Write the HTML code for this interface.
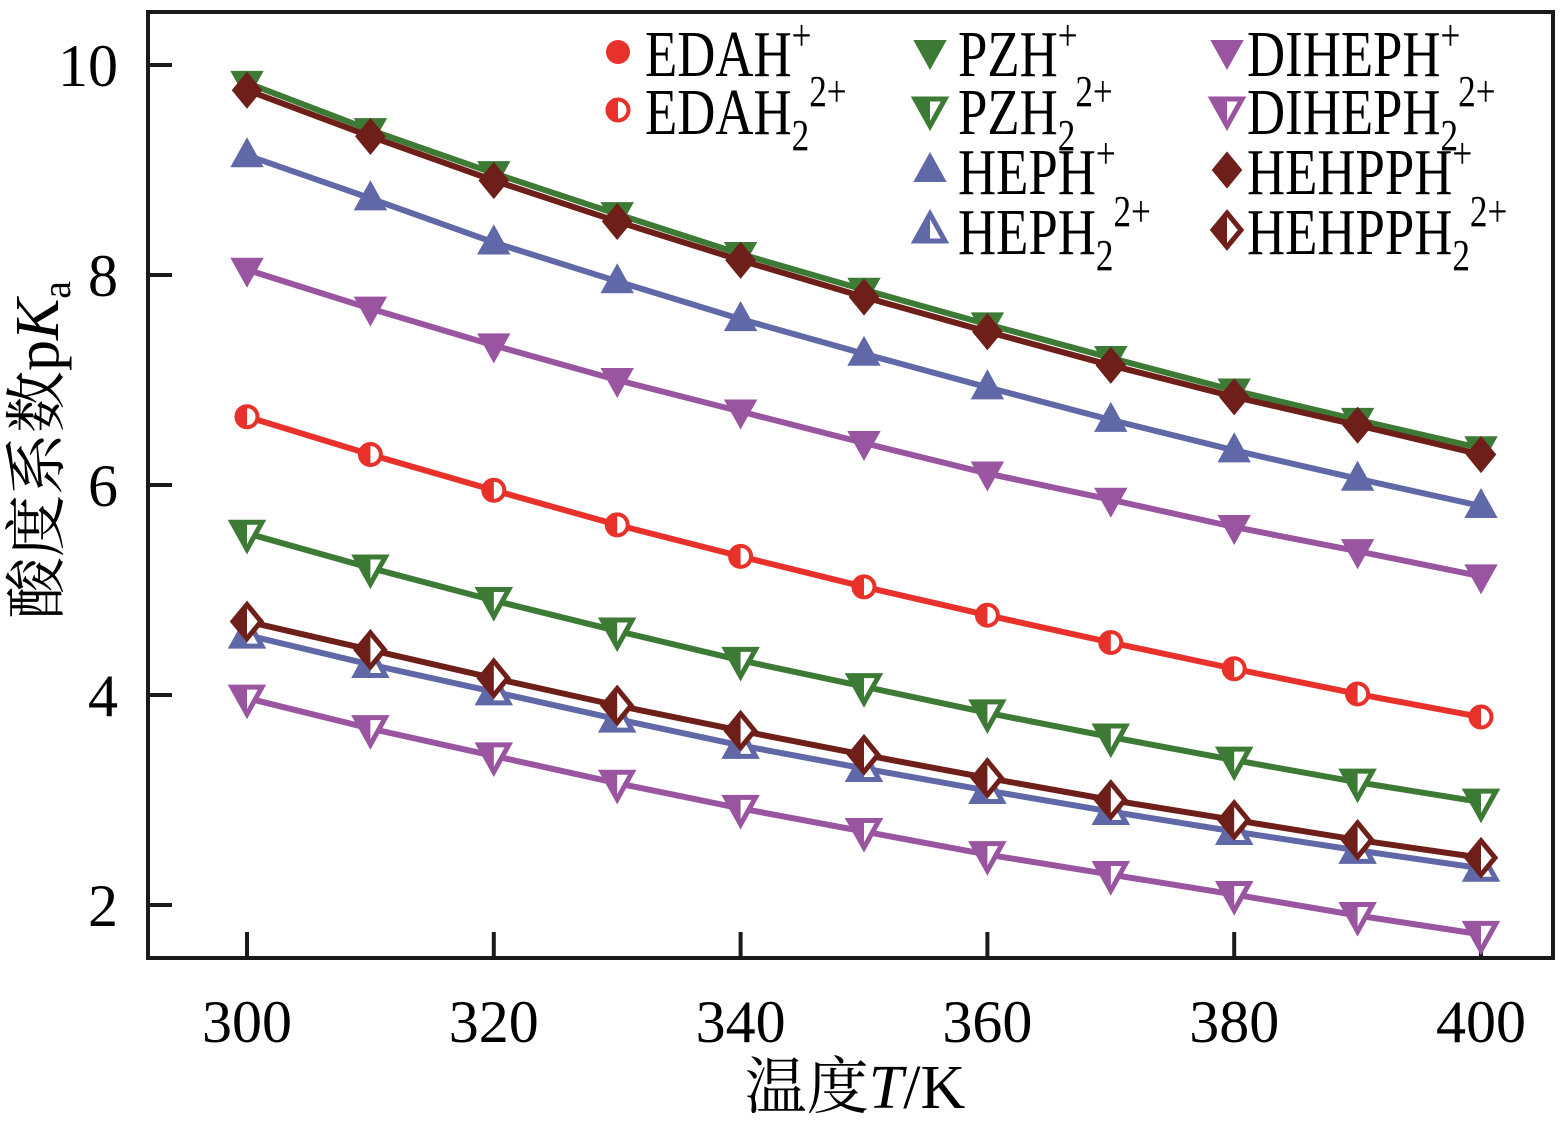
<!DOCTYPE html>
<html><head><meta charset="utf-8"><style>
body{margin:0;background:#fff}
svg{display:block;font-family:"Liberation Serif","Noto Serif CJK SC",serif}
</style></head><body>
<svg id="c" width="1568" height="1124" viewBox="0 0 1568 1124">
<rect x="148" y="12" width="1405" height="946" fill="none" stroke="#1a1a1a" stroke-width="4"/>
<g id="axes"></g>
<g id="series"></g>
<g id="legend"></g>
<text x="58" y="450" font-size="62" text-anchor="middle" transform="rotate(-90 58 450)">酸度系数p<tspan font-style="italic">K</tspan><tspan font-size="40" dy="12">a</tspan></text>
<text x="855" y="1108" font-size="62" text-anchor="middle">温度<tspan font-style="italic">T</tspan>/K</text>
</svg>
<script>
const temps=[300,310,320,330,340,350,360,370,380,390,400];
const xTicks=[300,320,340,360,380,400];
const yTicks=[2,4,6,8,10];
const edah1=[6.65,6.29,5.95,5.62,5.32,5.03,4.76,4.50,4.25,4.01,3.79];
const pzh1=[9.83,9.38,8.97,8.58,8.20,7.86,7.53,7.21,6.90,6.62,6.35];
const hehpph1=[9.76,9.32,8.90,8.51,8.14,7.79,7.46,7.14,6.84,6.57,6.29];
const heph1=[9.14,8.73,8.31,7.94,7.58,7.25,6.93,6.62,6.33,6.06,5.80];
const diheph1=[8.05,7.68,7.33,7.00,6.70,6.40,6.11,5.86,5.60,5.37,5.13];
const pzh2=[5.54,5.21,4.90,4.61,4.33,4.08,3.83,3.60,3.38,3.17,2.98];
const hehpph2=[4.70,4.43,4.16,3.90,3.66,3.43,3.21,3.00,2.81,2.62,2.45];
const heph2=[4.57,4.29,4.03,3.77,3.52,3.30,3.09,2.89,2.70,2.52,2.35];
const diheph2=[3.97,3.68,3.42,3.16,2.92,2.70,2.48,2.29,2.10,1.90,1.72];
const X=t=>247+(t-300)*12.34;
const Y=v=>905-(v-2)*105;
const NS='http://www.w3.org/2000/svg';
function mk(tag,attrs,parent){const e=document.createElementNS(NS,tag);for(const k in attrs)e.setAttribute(k,attrs[k]);parent.appendChild(e);return e;}
const axes=document.getElementById('axes');
xTicks.forEach(t=>{
 const l=mk('line',{x1:X(t),x2:X(t),y1:958,y2:932,stroke:'#1a1a1a','stroke-width':4},axes);
 
 
 const tx=mk('text',{x:X(t),y:1042,'font-size':60,'text-anchor':'middle'},axes);tx.textContent=t;
 
 
});
yTicks.forEach(v=>{
 const l=mk('line',{x1:148,x2:172,y1:Y(v),y2:Y(v),stroke:'#1a1a1a','stroke-width':4},axes);
 
 
 const tx=mk('text',{x:118,y:Y(v)+21,'font-size':60,'text-anchor':'end'},axes);tx.textContent=v;
 
 
});
function marker(g,shape,fill,color,x,y){
 let pts;
 if(shape==='circle'){
  if(fill==='full'){mk('circle',{cx:x,cy:y,r:12,fill:color},g);}
  else{mk('circle',{cx:x,cy:y,r:10.5,fill:'#fff',stroke:color,'stroke-width':4},g);
   mk('path',{d:`M${x},${y-10.5}A10.5,10.5 0 0 0 ${x},${y+10.5}Z`,fill:color},g);}
  return;
 }
 if(shape==='down')pts=[[x-15,y-11],[x+15,y-11],[x,y+16]];
 if(shape==='up')pts=[[x-15,y+11],[x+15,y+11],[x,y-16]];
 if(shape==='diamond')pts=[[x,y-17],[x+14,y],[x,y+17],[x-14,y]];
 const ps=pts.map(p=>p.join(',')).join(' ');
 if(fill==='full'){mk('polygon',{points:ps,fill:color,stroke:color,'stroke-width':2},g);}
 else{
  mk('polygon',{points:ps,fill:'#fff',stroke:color,'stroke-width':5,'stroke-linejoin':'miter'},g);
  let half;
  if(shape==='diamond')half=`${x},${y-17} ${x},${y+17} ${x-14},${y}`;
  if(shape==='down')half=`${x-15},${y-11} ${x},${y-11} ${x},${y+16}`;
  if(shape==='up')half=`${x-15},${y+11} ${x},${y+11} ${x},${y-16}`;
  mk('polygon',{points:half,fill:color},g);
 }
}
const series=[
 {n:'diheph2',d:diheph2,c:'#9a55a0',s:'down',f:'half'},
 {n:'heph2',d:heph2,c:'#6068a8',s:'up',f:'half'},
 {n:'hehpph2',d:hehpph2,c:'#6e1f1a',s:'diamond',f:'half'},
 {n:'pzh2',d:pzh2,c:'#3c7a35',s:'down',f:'half'},
 {n:'edah2',d:edah1,c:'#e8312a',s:'circle',f:'half'},
 {n:'diheph1',d:diheph1,c:'#9a55a0',s:'down',f:'full'},
 {n:'heph1',d:heph1,c:'#6068a8',s:'up',f:'full'},
 {n:'pzh1',d:pzh1,c:'#3c7a35',s:'down',f:'full'},
 {n:'hehpph1',d:hehpph1,c:'#6e1f1a',s:'diamond',f:'full'}
];
const sg=document.getElementById('series');
series.forEach(s=>{
 const g=mk('g',{},sg);
 
 
 const p=mk('polyline',{points:s.d.map((v,i)=>X(temps[i])+','+Y(v)).join(' '),fill:'none',stroke:s.c,'stroke-width':6},g);
 
 
 s.d.forEach((v,i)=>marker(g,s.s,s.f,s.c,X(temps[i]),Y(v)));
});
const lg=document.getElementById('legend');
const leg=[
 {mx:618,tx:645,y:52,s:'circle',f:'full',c:'#e8312a',b:'EDAH',sub:'',sup:'+'},
 {mx:618,tx:645,y:110,s:'circle',f:'half',c:'#e8312a',b:'EDAH',sub:'2',sup:'2+'},
 {mx:930,tx:958,y:52,s:'down',f:'full',c:'#3c7a35',b:'PZH',sub:'',sup:'+'},
 {mx:930,tx:958,y:110,s:'down',f:'half',c:'#3c7a35',b:'PZH',sub:'2',sup:'2+'},
 {mx:930,tx:958,y:170,s:'up',f:'full',c:'#6068a8',b:'HEPH',sub:'',sup:'+'},
 {mx:930,tx:958,y:230,s:'up',f:'half',c:'#6068a8',b:'HEPH',sub:'2',sup:'2+'},
 {mx:1227,tx:1247,y:52,s:'down',f:'full',c:'#9a55a0',b:'DIHEPH',sub:'',sup:'+'},
 {mx:1227,tx:1247,y:110,s:'down',f:'half',c:'#9a55a0',b:'DIHEPH',sub:'2',sup:'2+'},
 {mx:1227,tx:1247,y:170,s:'diamond',f:'full',c:'#6e1f1a',b:'HEHPPH',sub:'',sup:'+'},
 {mx:1227,tx:1247,y:230,s:'diamond',f:'half',c:'#6e1f1a',b:'HEHPPH',sub:'2',sup:'2+'}
];
leg.forEach(e=>{
 const g=mk('g',{},lg);
 
 
 marker(g,e.s,e.f,e.c,e.mx,e.y);
 const t=mk('text',{x:e.tx,y:e.y+24,'font-size':66,transform:`translate(${e.tx},0) scale(0.8,1) translate(${-e.tx},0)`},g);
 let h=e.b;
 if(e.sub)h+=`<tspan font-size="44" dy="16">${e.sub}</tspan><tspan font-size="44" dy="-44">${e.sup}</tspan>`;
 else h+=`<tspan font-size="44" dy="-26">${e.sup}</tspan>`;
 t.innerHTML=h;
});
</script>
</body></html>
